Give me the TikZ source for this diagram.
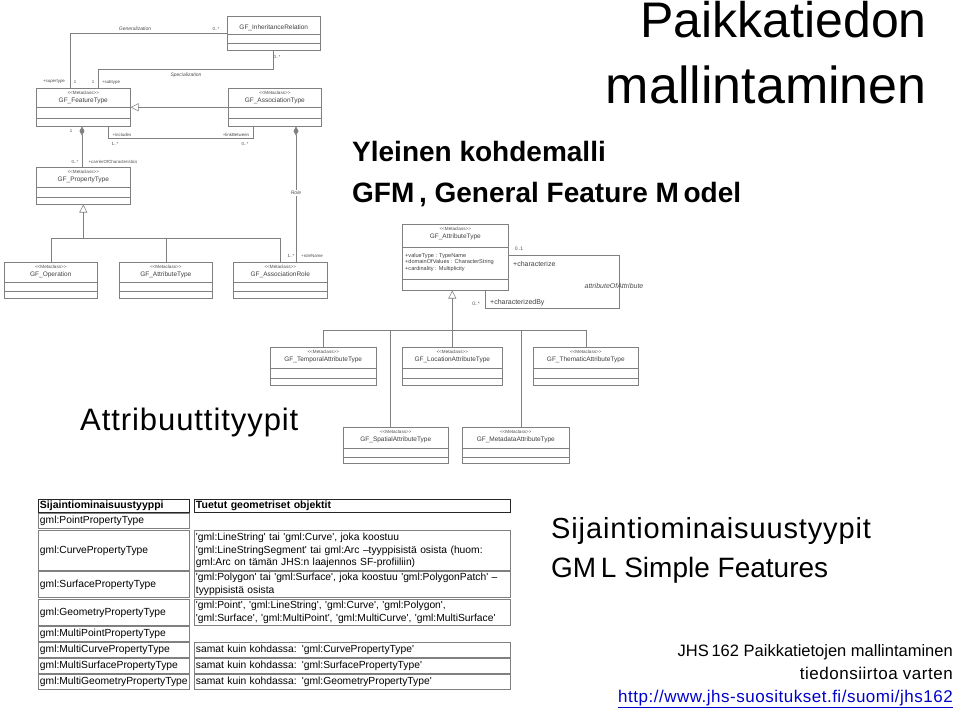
\documentclass[tikz,border=0pt]{standalone}
\usepackage{fontspec}
\setmainfont{Liberation Sans}
\newfontfamily\tabfont{Liberation Sans}[Ligatures=TeXOff]
\newfontfamily\spaced{Liberation Sans}[LetterSpace=3]
\usetikzlibrary{arrows.meta,calc,positioning}

% metaclass box: name, left, top, right, bottom, line1, line2, title
\newcommand{\metaclass}[8]{%
  \node[classbox, minimum width=#4pt-#2pt, minimum height=#5pt-#3pt] (#1) at (#2,#3) {};
  \draw[umlline] (#2,#6) -- (#4,#6) (#2,#7) -- (#4,#7);
  \node[stereo] at ($(#1.north)+(0,5)$) {<<Metaclass>>};
  \node[cname] at ($(#1.north)+(0,13)$) {#8};
}

\begin{document}
\begin{tikzpicture}[x=1pt, y=-1pt,
  umlline/.style={draw=black!50, line width=0.55pt},
  classbox/.style={draw=black!50, line width=0.55pt, fill=white, inner sep=0pt, anchor=north west},
  stereo/.style={font=\tabfont\fontsize{4.6}{5}\selectfont, text=black!70, inner sep=0pt},
  cname/.style={font=\fontsize{6.5}{7}\selectfont, text=black!75, inner sep=0pt},
  role/.style={font=\fontsize{4.4}{5}\selectfont, text=black!70, inner sep=0pt},
  assocname/.style={font=\itshape\fontsize{5}{6}\selectfont, text=black!70, inner sep=0pt},
  attr/.style={font=\fontsize{5.6}{6}\selectfont, text=black!75, inner sep=0pt, anchor=west},
  rolebig/.style={font=\fontsize{7}{8}\selectfont, text=black!75, inner sep=0pt, anchor=west},
  gen/.style={umlline, -{Triangle[open, length=8pt, width=8pt]}},
  comp/.style={umlline, {Diamond[length=9pt, width=5pt]}-},
  cell/.style={draw=black!50, line width=0.9pt, anchor=north west, inner xsep=1.5pt, inner ysep=0pt,
    align=left, font=\tabfont\fontsize{10.3}{12.4}\selectfont},
  cellA/.style={cell, text width=148pt},
  cellB/.style={cell, text width=313pt},
  head/.style={draw=black!85, font=\tabfont\bfseries\fontsize{10.5}{12.4}\selectfont},
]
\useasboundingbox (0,0) rectangle (960,708);

% titles
\node[font=\fontsize{50}{55}\selectfont, anchor=base east, inner sep=0pt] (title1) at (927,38) {Paikkatiedon};
\node[font=\fontsize{52}{57}\selectfont, anchor=base east, inner sep=0pt] (title2) at (927,104) {mallintaminen};
\node[font=\bfseries\fontsize{28}{32}\selectfont, anchor=base west, inner sep=0pt] (gfm1) at (352,162) {Yleinen kohdemalli};
\node[font=\bfseries\fontsize{28}{32}\selectfont, anchor=base west, inner sep=0pt] (gfm2) at (352,203) {GFM\,, General Feature M\,odel};
\node[font=\spaced\fontsize{31}{35}\selectfont, anchor=base west, inner sep=0pt] (attrtypes) at (80,430) {Attribuuttityypit};
\node[font=\spaced\fontsize{29}{33}\selectfont, anchor=base west, inner sep=0pt] (loctypes) at (551,538) {Sijaintiominaisuustyypit};
\node[font=\fontsize{28}{32}\selectfont, anchor=base west, inner sep=0pt] (sf) at (551,577) {GM\,L Simple Features};
\node[font=\fontsize{16.5}{19}\selectfont, anchor=base east, inner sep=0pt] (ref1) at (953,656) {JHS\,162 Paikkatietojen mallintaminen};
\node[font=\spaced\fontsize{17}{19}\selectfont, anchor=base east, inner sep=0pt] (ref2) at (953,679) {tiedonsiirtoa varten};
\node[font=\spaced\fontsize{17}{19}\selectfont, anchor=base east, inner sep=0pt, text=blue!80!black] (url) at (953,702) {\underline{http://www.jhs-suositukset.fi/suomi/jhs162}};

% GFM classes
\node[classbox, minimum width=93pt, minimum height=34pt] (inh) at (227,16) {};
\draw[umlline] (227,34) -- (320,34) (227,43) -- (320,43);
\node[cname] at ($(inh.north)+(0,12)$) {GF\_InheritanceRelation};
\metaclass{ft}{36}{88}{130}{126}{107}{118}{GF\_FeatureType}
\metaclass{at}{228}{88}{321}{126}{107}{118}{GF\_AssociationType}
\metaclass{pt}{36}{167}{130}{204}{187}{197}{GF\_PropertyType}
\metaclass{op}{4}{262}{97}{298}{282}{291}{GF\_Operation}
\metaclass{att}{119}{262}{212}{298}{282}{291}{GF\_AttributeType}
\metaclass{ar}{233}{262}{327}{298}{282}{291}{GF\_AssociationRole}

\draw[umlline] ([xshift=34pt]ft.north west) |- (inh.west);
\draw[umlline] ([xshift=62pt]ft.north west) -- ++(0,-19) -| ([xshift=46pt]inh.south west);
\draw[gen] (at.west) -- (ft.east);
\draw[comp] ([xshift=46pt]ft.south west) -- ([xshift=46pt]pt.north west);
\draw[umlline] ([xshift=72pt]ft.south west) -- ++(0,12) -| ([xshift=25pt]at.south west);
\draw[comp] ([xshift=68pt]at.south west) -- ([xshift=63pt]ar.north west);
\coordinate (j1) at ($(pt.south)+(0,34)$);
\draw[gen] (j1) -- (pt.south);
\draw[umlline] (op.north) |- (j1) -| (ar.north);
\draw[umlline] (att.north) -- (att.north |- j1);

\node[assocname] (genl) at (135,29) {Generalization};
\node[role] at (216,29) {0..*};
\node[role] at (54,82) {+supertype};
\node[role] at (75,82) {1};
\node[role] at (93,82) {1};
\node[role] at (111,82) {+subtype};
\node[assocname] (spec) at (186,75) {Specialization};
\node[role] at (277,57) {0..*};
\node[role] at (71,131) {1};
\node[role] at (122,135) {+includes};
\node[role] at (115,144) {1..*};
\node[role] at (236,135) {+linkBetween};
\node[role] at (245,144) {0..*};
\node[role] at (75,162) {0..*};
\node[role] at (113,162) {+carrierOfCharacteristics};
\node[assocname, fill=white, inner sep=1pt] (rolename) at (296,193) {Role};
\node[role] at (291,256) {1..*};
\node[role] at (312,256) {+roleName};

% attribute types
\metaclass{big}{402}{224}{508}{290}{247}{279}{GF\_AttributeType}
\node[attr] at (405,256) {+valueType : TypeName};
\node[attr] at (405,262.5) {+domainOfValues : CharacterString};
\node[attr] at (405,269) {+cardinality : Multiplicity};
\draw[umlline] ([yshift=2pt]big.east) -- ++(111,0) -- ++(0,53) -| ([xshift=83pt]big.south west);
\node[role, font=\fontsize{5}{6}\selectfont] at (519,249) {0..1};
\node[rolebig] at (513,264) {+characterize};
\node[assocname, font=\itshape\fontsize{7}{8}\selectfont] (aoa) at (614,286) {attributeOfAttribute};
\node[role, font=\fontsize{5}{6}\selectfont] at (476,304) {0..*};
\node[rolebig] at (490,303) {+characterizedBy};

\metaclass{tat}{270}{347}{376}{385}{368}{378}{GF\_TemporalAttributeType}
\metaclass{lat}{402}{347}{502}{385}{368}{378}{GF\_LocationAttributeType}
\metaclass{thm}{533}{347}{638}{385}{368}{378}{GF\_ThematicAttributeType}
\metaclass{sat}{343}{427}{448}{463}{448}{457}{GF\_SpatialAttributeType}
\metaclass{mat}{462}{427}{569}{463}{448}{457}{GF\_MetadataAttributeType}

\coordinate (j2) at ($(big.south)+(0,40)$);
\draw[gen] (lat.north |- j2) -- (lat.north |- big.south);
\draw[umlline] (tat.north) |- (j2) -| (thm.north);
\draw[umlline] (lat.north) -- (lat.north |- j2);
\coordinate (sd) at ([xshift=47pt]sat.north west);
\coordinate (md) at ([xshift=59pt]mat.north west);
\draw[umlline] (sd) -- (sd |- j2);
\draw[umlline] (md) -- (md |- j2);

% table
\node[cellA, head, minimum height=13pt] (h1) at (38,499) {Sijaintiominaisuustyyppi};
\node[cellB, head, minimum height=13pt] (h2) at (194,499) {Tuetut geometriset objektit};
\node[cellA, minimum height=15pt] (a1) at (38,513) {gml:PointPropertyType};
\node[cellA, minimum height=40pt] (a2) at (38,530) {gml:CurvePropertyType};
\node[cellB, minimum height=40pt] (b2) at (194,530) {'gml:LineString' tai 'gml:Curve', joka koostuu\\'gml:LineStringSegment' tai gml:Arc –tyyppisistä osista (huom:\\gml:Arc on tämän JHS:n laajennos SF-profiiliin)};
\node[cellA, minimum height=26pt] (a3) at (38,571) {gml:SurfacePropertyType};
\node[cellB, minimum height=26pt] (b3) at (194,571) {'gml:Polygon' tai 'gml:Surface', joka koostuu 'gml:PolygonPatch' –\\tyyppisistä osista};
\node[cellA, minimum height=26pt] (a4) at (38,599) {gml:GeometryPropertyType};
\node[cellB, minimum height=26pt] (b4) at (194,599) {'gml:Point', 'gml:LineString', 'gml:Curve', 'gml:Polygon',\\'gml:Surface', 'gml:MultiPoint', 'gml:MultiCurve', 'gml:MultiSurface'};
\node[cellA, minimum height=15pt] (a5) at (38,626) {gml:MultiPointPropertyType};
\node[cellA, minimum height=15pt] (a6) at (38,642) {gml:MultiCurvePropertyType};
\node[cellB, minimum height=15pt] (b6) at (194,642) {samat kuin kohdassa: 'gml:CurvePropertyType'};
\node[cellA, minimum height=15pt] (a7) at (38,658) {gml:MultiSurfacePropertyType};
\node[cellB, minimum height=15pt] (b7) at (194,658) {samat kuin kohdassa: 'gml:SurfacePropertyType'};
\node[cellA, minimum height=15pt] (a8) at (38,674) {gml:MultiGeometryPropertyType};
\node[cellB, minimum height=15pt] (b8) at (194,674) {samat kuin kohdassa: 'gml:GeometryPropertyType'};
\end{tikzpicture}
\end{document}
